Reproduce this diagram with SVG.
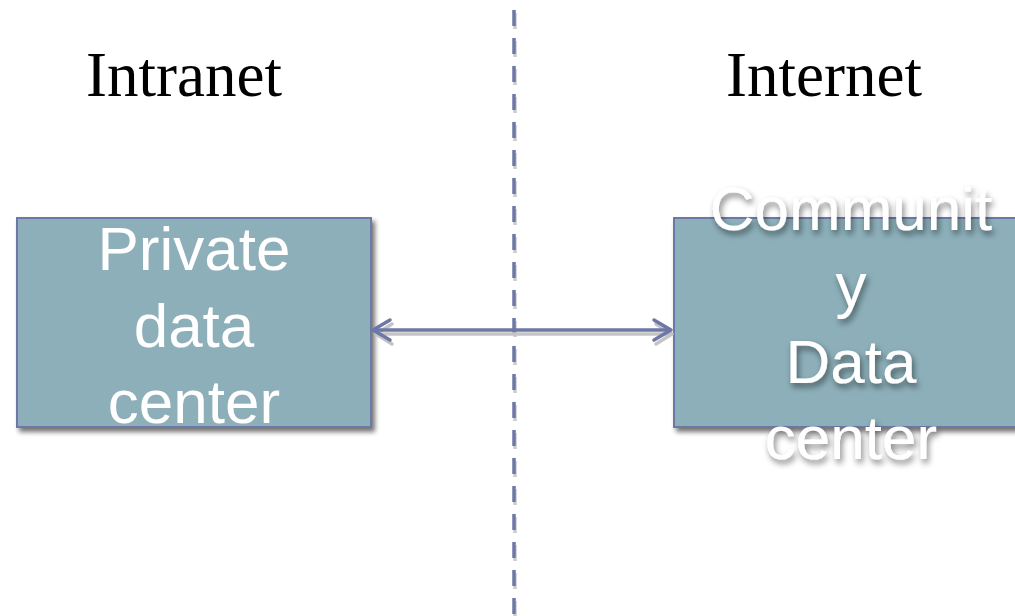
<svg xmlns="http://www.w3.org/2000/svg" width="1015" height="616" viewBox="0 0 1015 616">
<defs>
<style>
.box{fill:#8cafb9;stroke:#6e78a6;stroke-width:2}
.lbl{font-family:"Liberation Sans",Arial,sans-serif;font-size:62px;fill:#ffffff;text-anchor:middle}
.ttl{font-family:"Liberation Serif","Times New Roman",serif;font-size:63px;fill:#000000;text-anchor:middle}
.conn{stroke:#6e78a6;stroke-width:3.5;fill:none}
.shd{stroke:#c4c4c4;stroke-width:3.5;fill:none}
</style>
<filter id="boxShadow" x="-10%" y="-10%" width="130%" height="130%">
<feGaussianBlur in="SourceAlpha" stdDeviation="2.5"/>
<feOffset dx="3" dy="4" result="b"/>
<feComponentTransfer><feFuncA type="linear" slope="0.55"/></feComponentTransfer>
<feMerge><feMergeNode/><feMergeNode in="SourceGraphic"/></feMerge>
</filter>
<filter id="txtShadow" x="-10%" y="-20%" width="130%" height="150%">
<feGaussianBlur in="SourceAlpha" stdDeviation="3"/>
<feOffset dx="2" dy="4" result="b"/>
<feComponentTransfer><feFuncA type="linear" slope="0.5"/></feComponentTransfer>
<feMerge><feMergeNode/><feMergeNode in="SourceGraphic"/></feMerge>
</filter>
</defs>
<rect width="1015" height="616" fill="#ffffff"/>

<g id="titles">
<text class="ttl" x="184" y="96">Intranet</text>
<text class="ttl" x="824" y="96">Internet</text>
</g>

<g id="divider">
<line x1="515" y1="13" x2="515" y2="616" stroke="#cccccc" stroke-width="3.5" stroke-dasharray="16 12"/>
<line x1="514" y1="10" x2="514" y2="616" stroke="#6e78a6" stroke-width="3.5" stroke-dasharray="16 12"/>
</g>

<g id="node-private">
<rect class="box" x="17" y="218" width="354" height="209" filter="url(#boxShadow)"/>
<text class="lbl" x="194" y="270">Private</text>
<text class="lbl" x="194" y="347">data</text>
<text class="lbl" x="194" y="423">center</text>
</g>

<g id="node-community">
<rect class="box" x="674" y="218" width="360" height="209" filter="url(#boxShadow)"/>
<g filter="url(#txtShadow)">
<text class="lbl" x="851" y="230">Communit</text>
<text class="lbl" x="851" y="306">y</text>
<text class="lbl" x="851" y="383">Data</text>
<text class="lbl" x="851" y="459">center</text>
</g>
</g>

<g id="connectors">
<g transform="translate(2,4)">
<line class="shd" x1="374" y1="330" x2="670" y2="330"/>
<polyline class="shd" points="390,320 374,330 390,340" stroke-linecap="round" stroke-linejoin="round"/>
<polyline class="shd" points="654,320 670,330 654,340" stroke-linecap="round" stroke-linejoin="round"/>
</g>
<line class="conn" x1="373" y1="330" x2="671" y2="330"/>
<polyline class="conn" points="390,320 373,330 390,340" stroke-linecap="round" stroke-linejoin="round"/>
<polyline class="conn" points="654,320 671,330 654,340" stroke-linecap="round" stroke-linejoin="round"/>
</g>
</svg>
